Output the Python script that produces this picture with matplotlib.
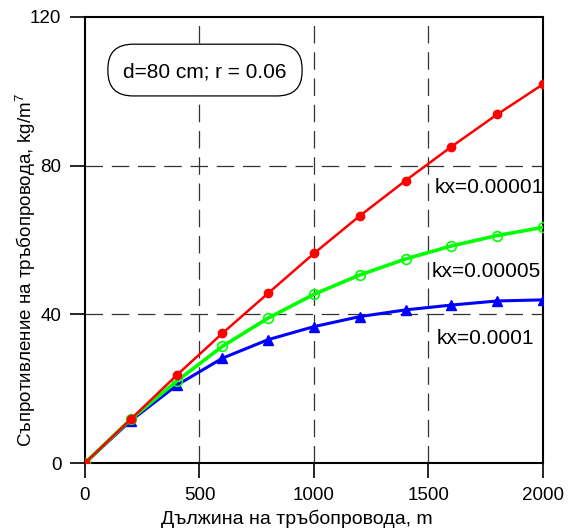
import matplotlib.pyplot as plt
from matplotlib.patches import FancyBboxPatch

plt.rcParams['font.family'] = ['Liberation Sans', 'DejaVu Sans']
plt.rcParams['mathtext.fontset'] = 'custom'
plt.rcParams['mathtext.rm'] = 'Liberation Sans'

# pipe length, m
length = [0, 200, 400, 600, 800, 1000, 1200, 1400, 1600, 1800, 2000]

# resistance, kg/m^7
kx_00001 = [0, 11.8, 23.6, 34.9, 45.7, 56.4, 66.5, 76.0, 85.1, 93.8, 101.9]
kx_00005 = [0, 11.8, 22.0, 31.4, 39.0, 45.4, 50.6, 54.9, 58.4, 61.2, 63.4]
kx_0001 = [0, 11.4, 20.9, 28.2, 33.2, 36.7, 39.4, 41.2, 42.5, 43.6, 43.9]

xticks = [0, 500, 1000, 1500, 2000]
yticks = [0, 40, 80, 120]

fig = plt.figure(figsize=(5.72, 5.31), dpi=100)
ax = fig.add_axes([0.1486, 0.128, 0.8007, 0.840])

ax.plot(length, kx_00001, color='#ff0000', lw=1.8, marker='o', ms=6,
        mfc='#ff0000', mec='#ff0000', zorder=5)
ax.plot(length, kx_00005, color='#00ff00', lw=2.6, marker='o', ms=7,
        mfc='none', mec='#00ff00', mew=1.2, zorder=4)
ax.plot(length, kx_0001, color='#0000ff', lw=2.2, marker='^', ms=7,
        mfc='#0000ff', mec='#0000ff', zorder=3)

ax.set_xlim(0, 2000)
ax.set_ylim(0, 120)
ax.set_xticks(xticks)
ax.set_yticks(yticks)
ax.tick_params(direction='out', length=11, width=1.2, labelsize=13.5, pad=6)

for s in ax.spines.values():
    s.set_linewidth(1.5)

# dashed grid, only at inner ticks
for x in xticks[1:-1]:
    ax.axvline(x, color='#333333', lw=0.9, dashes=(14, 7), zorder=1)
for y in yticks[1:-1]:
    ax.axhline(y, color='#333333', lw=0.9, dashes=(14, 7), zorder=1)

ax.set_xlabel('Дължина на тръбопровода, m', fontsize=14)
ax.xaxis.set_label_coords(0.463, -0.105)
ax.set_ylabel('Съпротивление на тръбопровода, kg/m$^\\mathregular{7}$', fontsize=13.5)
ax.yaxis.set_label_coords(-0.102, 0.433)

# rounded parameter box
box = FancyBboxPatch((0.05, 0.823), 0.424, 0.116, transform=ax.transAxes,
                     boxstyle='round,pad=0,rounding_size=0.055',
                     fc='white', ec='black', lw=0.9, zorder=6)
ax.add_patch(box)
ax.text(0.262, 0.877, 'd=80 cm; r = 0.06', transform=ax.transAxes,
        fontsize=15, ha='center', va='center', zorder=7)

ax.text(1764, 74.0, 'kx=0.00001', fontsize=15, ha='center', va='center', zorder=7)
ax.text(1751, 51.4, 'kx=0.00005', fontsize=15, ha='center', va='center', zorder=7)
ax.text(1750, 33.4, 'kx=0.0001', fontsize=15, ha='center', va='center', zorder=7)

fig.savefig('out.png', dpi=100)
